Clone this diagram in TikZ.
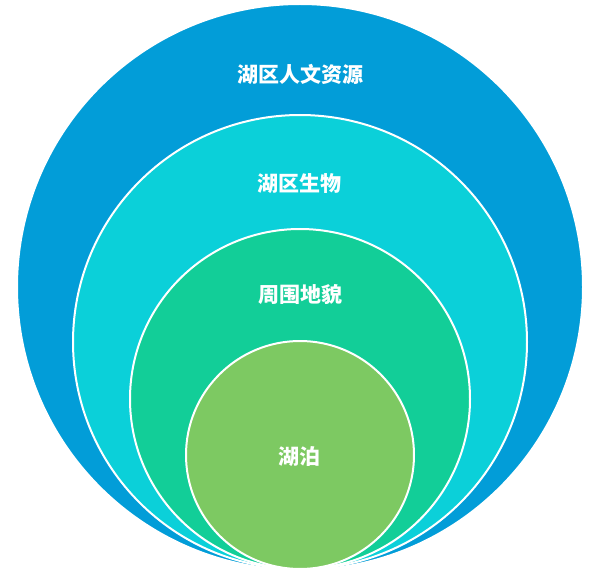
\documentclass[tikz,border=0pt]{standalone}
\usepackage{fontspec}
\newfontfamily\cjk{Noto Sans CJK SC}
\definecolor{ringblue}{RGB}{2,157,216}
\definecolor{ringcyan}{RGB}{11,208,217}
\definecolor{ringgreen}{RGB}{18,206,152}
\definecolor{ringlime}{RGB}{125,201,98}
\tikzset{
  ring/.style={circle, draw=white, line width=2pt, inner sep=0pt},
  ringlabel/.style={text=white, font=\cjk\bfseries\fontsize{21}{23}\selectfont}
}
\begin{document}
\begin{tikzpicture}[x=1pt, y=1pt]
                \useasboundingbox (0, 0) rectangle (600, 574);
                \node[ring, fill=ringblue, minimum size=566pt] (outer) at (300, 287) {};
                \node[ring, fill=ringcyan, minimum size=454pt] (second) at (300, 232) {};
                \node[ring, fill=ringgreen, minimum size=340pt] (third) at (300, 175) {};
                \node[ring, fill=ringlime, minimum size=228pt] (inner) at (300, 119) {};
                \node[ringlabel] (culture) at (300, 500) {湖区人文资源};
                \node[ringlabel] (biology) at (299, 390) {湖区生物};
                \node[ringlabel] (landform) at (300, 279) {周围地貌};
                \node[ringlabel] (lake) at (299, 117) {湖泊};
            \end{tikzpicture}
\end{document}
